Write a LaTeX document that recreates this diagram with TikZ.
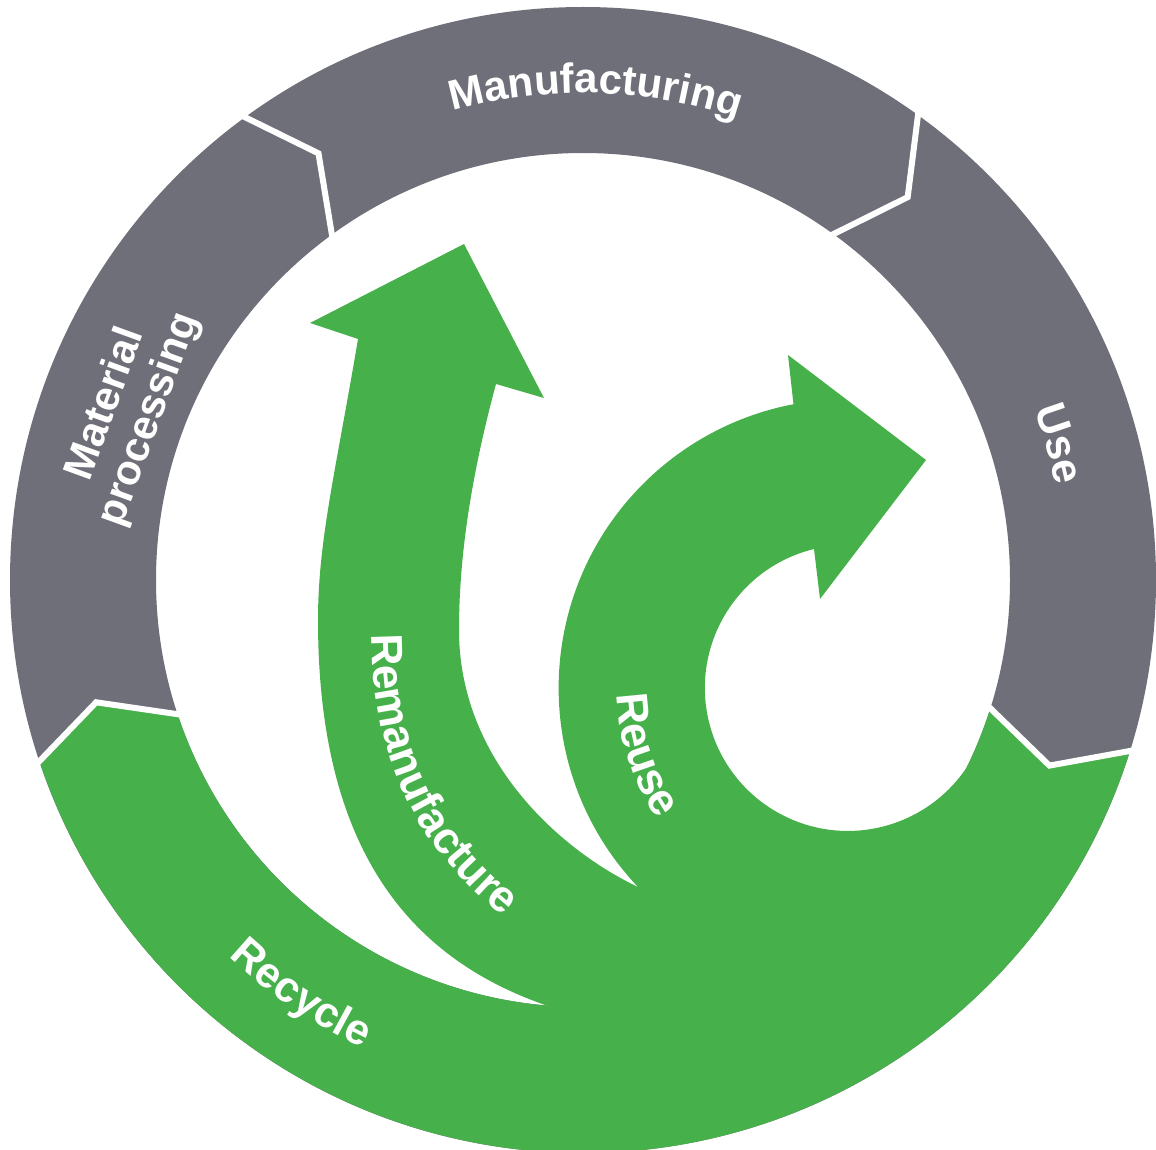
\documentclass[tikz,border=0pt]{standalone}
\usepackage{fontspec}
\setmainfont{Liberation Sans}
\usetikzlibrary{decorations.text}
\definecolor{ringgray}{RGB}{111,111,121}
\definecolor{ecogreen}{RGB}{70,176,74}
\newcommand\lab{\fontsize{42}{46}\selectfont\bfseries}
\newcommand\labm{\fontsize{43}{47}\selectfont\bfseries}
\newcommand\labl{\fontsize{44.5}{48}\selectfont\bfseries}
\begin{document}
\begin{tikzpicture}[x=1pt,y=-1pt,
  sep/.style={white, line width=6pt, line join=miter},
  curvedlabel/.style 2 args={decorate, decoration={text along path, text={|#1|#2}, text color=white, text align=center}},
  leftlabel/.style 2 args={decorate, decoration={text along path, text={|#1|#2}, text color=white, text align=left}},
  ringlabel/.style={text=white, font=\lab, align=center, inner sep=0pt}
]
\useasboundingbox (0,0) rectangle (1156,1150);
\clip (0,0) rectangle (1156,1150);
\coordinate (C) at (583,580);
\coordinate (RC) at (848,688);

% gray ring
\fill[ringgray, even odd rule] (C) circle[radius=573] (C) circle[radius=427];

% green ring segment (Recycle)
\fill[ecogreen] ([shift={(17:573)}]C) arc[start angle=17, end angle=161.2, radius=573]
   -- ([shift={(165.9:502)}]C) -- ([shift={(161.2:427)}]C)
   arc[start angle=161.2, end angle=17, radius=427]
   -- ([shift={(21.7:502)}]C) -- cycle;

% separators
\draw[sep] ([shift={(161.2:580)}]C) -- ([shift={(165.9:502)}]C) -- ([shift={(161.2:420)}]C);
\draw[sep] ([shift={(-126.5:580)}]C) -- ([shift={(-121.8:502)}]C) -- ([shift={(-126.5:420)}]C);
\draw[sep] ([shift={(-54.6:580)}]C) -- ([shift={(-49.7:502)}]C) -- ([shift={(-54.6:420)}]C);
\draw[sep] ([shift={(17:580)}]C) -- ([shift={(21.7:502)}]C) -- ([shift={(17:420)}]C);

% interior green arrows (Remanufacture and Reuse)
\fill[ecogreen] (551,1007) .. controls (410,960) and (318,850) .. (318,620)
  .. controls (318,540) and (336,470) .. (358,339)
  -- (310,323) -- (464,244) -- (544,398) -- (496,384)
  .. controls (470,480) and (459,560) .. (459,630)
  .. controls (459,760) and (560,850) .. (638,887)
  arc[start angle=136.5, end angle=259.2, radius=289]
  -- (788,355) -- (926,460) -- (820,599) -- (814,549)
  arc[start angle=256.3, end angle=28.9, radius=143]
  -- ([shift={(24.4:440)}]C)
  arc[start angle=24.4, end angle=94.3, radius=440]
  -- cycle;

% labels
\path[curvedlabel={\lab}{Manufacturing}] ([shift={(-128.5:487)}]C) arc[start angle=-128.5, end angle=-48.5, radius=487];
\path[curvedlabel={\labm}{Use}] ([shift={(-44:482)}]C) arc[start angle=-44, end angle=12, radius=482];
\path[curvedlabel={\labm}{Recycle}] ([shift={(150:517)}]C) arc[start angle=150, end angle=98.5, radius=517];
\path[leftlabel={\labl}{Remanufacture}] (372,634) .. controls (372,770) and (425,865) .. (535,940);
\path[leftlabel={\labl}{Reuse}] ([shift={(178.5:231)}]RC) arc[start angle=178.5, end angle=120, radius=231];
\node[ringlabel, rotate=70] (mp) at (128,412) {Material\\processing};
\end{tikzpicture}
\end{document}
